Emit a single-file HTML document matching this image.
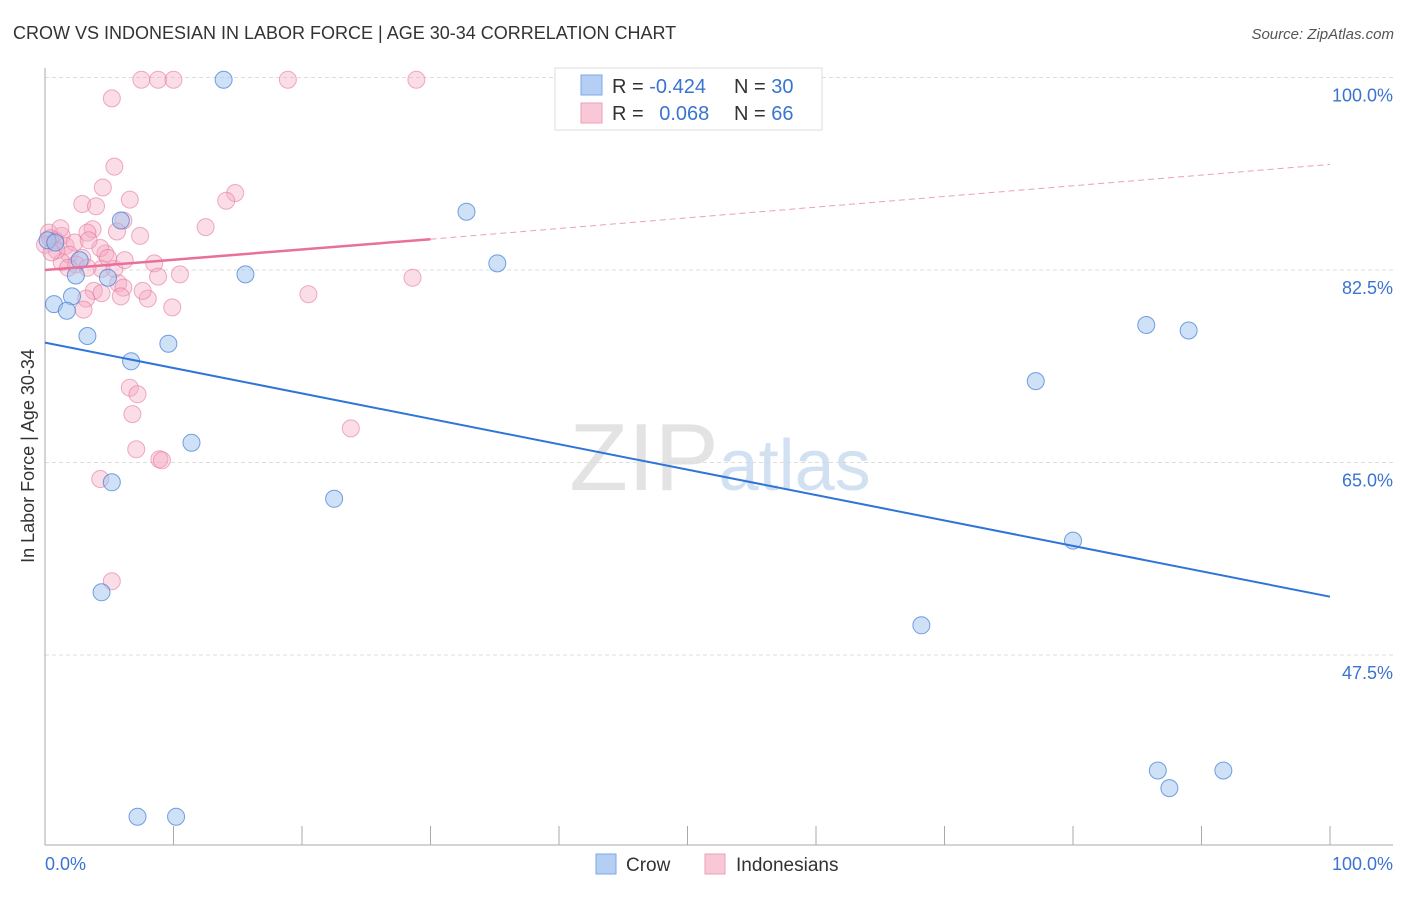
<!DOCTYPE html>
<html><head><meta charset="utf-8"><style>
body{margin:0;background:#fff;font-family:"Liberation Sans",sans-serif;}
svg text{font-family:"Liberation Sans",sans-serif;}
</style></head><body>
<svg id="chart" width="1406" height="892" xmlns="http://www.w3.org/2000/svg">
<text x="13" y="39" font-size="18" fill="#333">CROW VS INDONESIAN IN LABOR FORCE | AGE 30-34 CORRELATION CHART</text>
<text x="1394" y="39" font-size="15" fill="#555" text-anchor="end" font-style="italic">Source: ZipAtlas.com</text>
<g id="grid"></g>
<text x="720" y="490" font-size="96" text-anchor="middle" fill="#ddd" font-family="Liberation Serif" opacity="0.8">ZIP<tspan fill="#c8daf0" font-family="Liberation Sans" font-size="72">atlas</tspan></text>
<text transform="translate(34,456) rotate(-90)" font-size="18" fill="#333" text-anchor="middle">In Labor Force | Age 30-34</text>
<g id="axes"></g>
<g id="marks"></g>
<g>
<rect x="555" y="68" width="267" height="62" fill="#fff" stroke="#ddd"/>
<rect x="581" y="75" width="21" height="20" fill="#b5cff4" stroke="#7aa8e6"/>
<rect x="581" y="103" width="21" height="20" fill="#f8c8d6" stroke="#eba0b8"/>
<text x="612" y="93" font-size="20" fill="#333">R = <tspan fill="#3a74d0">-0.424</tspan></text>
<text x="734" y="93" font-size="20" fill="#333">N = <tspan fill="#3a74d0">30</tspan></text>
<text x="612" y="120" font-size="20" fill="#333">R = <tspan fill="#3a74d0" dx="10">0.068</tspan></text>
<text x="734" y="120" font-size="20" fill="#333">N = <tspan fill="#3a74d0">66</tspan></text>
</g>
<g>
<rect x="596" y="854" width="20" height="20" fill="#b5cff4" stroke="#7aa8e6"/>
<text x="626" y="871" font-size="19" fill="#333">Crow</text>
<rect x="705" y="854" width="20" height="20" fill="#f8c8d6" stroke="#eba0b8"/>
<text x="736" y="871" font-size="19" fill="#333">Indonesians</text>
</g>
</svg>
<script>
const yTicks=[100,82.5,65,47.5];
const yTickLabels=["100.0%","82.5%","65.0%","47.5%"];
const crowX=[13.9,32.8,35.2,5.9,15.6,2.7,4.9,2.4,2.1,0.7,1.7,3.3,9.6,6.7,11.4,5.2,22.5,4.4,7.2,10.2,85.7,89.0,77.1,80.0,68.2,86.6,91.7,87.5,0.2,0.8];
const crowY=[99.8,87.8,83.1,87.0,82.1,83.4,81.8,82.0,80.1,79.4,78.8,76.5,75.8,74.2,66.8,63.2,61.7,53.2,32.8,32.8,77.5,77.0,72.4,57.9,50.2,37.0,37.0,35.4,85.2,85.0];
const indoX=[7.5,8.8,10.0,18.9,28.9,5.2,5.4,4.5,14.8,14.1,6.6,2.9,3.97,6.1,12.5,3.7,5.6,3.3,7.4,0.3,1.3,0.8,1.6,2.3,0,4.7,1.9,2.9,1.3,2.4,8.5,4.4,5.4,10.5,8.8,28.6,5.7,6.1,3.8,4.4,3.2,5.9,8.0,20.5,9.9,3.0,6.6,7.2,6.8,23.8,7.1,8.9,9.1,4.3,5.2,0.9,0.4,1.8,3.3,1.2,4.3,6.2,7.6,0.5,4.9,3.4];
const indoY=[99.8,99.8,99.8,99.8,99.8,98.1,91.9,90.0,89.5,88.8,88.9,88.5,88.3,87.0,86.4,86.2,86.0,85.9,85.6,85.9,85.6,85.2,84.7,85.0,84.8,84.0,83.9,83.6,83.2,83.0,83.1,82.6,82.6,82.1,81.9,81.8,81.3,80.9,80.6,80.4,79.9,80.1,79.9,80.3,79.1,78.9,71.8,71.2,69.4,68.1,66.2,65.3,65.2,63.5,54.2,84.3,85.4,82.7,82.7,86.3,84.5,83.4,80.6,84.1,83.6,85.2];
const crowTrend=[75.9,52.8];
const indoTrend=[82.5,85.3,92.1];
const NS="http://www.w3.org/2000/svg";
const X=v=>45+v*12.85;
const Y=v=>77.5+(100-v)*11;
function mk(tag,attrs,parent){const e=document.createElementNS(NS,tag);for(const k in attrs)e.setAttribute(k,attrs[k]);parent.appendChild(e);return e;}
const grid=document.getElementById('grid'),axes=document.getElementById('axes'),marks=document.getElementById('marks');
yTicks.forEach((t,i)=>{
 const l=mk('line',{x1:45,x2:1393,y1:Y(t),y2:Y(t),stroke:'#ddd','stroke-dasharray':'4,3'},grid);
 
 
 const tx=mk('text',{x:1393,y:Y(t)+24,'font-size':18,fill:'#3a74d0','text-anchor':'end'},axes);
 tx.textContent=yTickLabels[i];
 
 
});
const ax=mk('line',{x1:45,x2:45,y1:68,y2:845,stroke:'#aaa'},axes);


const bx=mk('line',{x1:45,x2:1393,y1:845,y2:845,stroke:'#aaa'},axes);


for(let i=0;i<=10;i++){const t=mk('line',{x1:X(i*10),x2:X(i*10),y1:826,y2:845,stroke:'#aaa'},axes);
 
 }
const xl=mk('text',{x:45,y:870,'font-size':18,fill:'#3a74d0'},axes);xl.textContent='0.0%';


const xr=mk('text',{x:1393,y:870,'font-size':18,fill:'#3a74d0','text-anchor':'end'},axes);xr.textContent='100.0%';


indoX.forEach((v,i)=>{const c=mk('circle',{cx:X(v),cy:Y(indoY[i]),r:8.5,fill:'rgba(244,170,195,0.4)',stroke:'rgba(230,120,155,0.6)','stroke-width':1},marks);
 
 });
crowX.forEach((v,i)=>{const c=mk('circle',{cx:X(v),cy:Y(crowY[i]),r:8.5,fill:'rgba(160,195,240,0.5)',stroke:'rgba(70,130,215,0.75)','stroke-width':1},marks);
 
 });
const ct=mk('line',{x1:X(0),y1:Y(crowTrend[0]),x2:X(100),y2:Y(crowTrend[1]),stroke:'#2f74d8','stroke-width':2},marks);


const it=mk('line',{x1:X(0),y1:Y(indoTrend[0]),x2:X(30),y2:Y(indoTrend[1]),stroke:'#e8709a','stroke-width':2.5},marks);


const id=mk('line',{x1:X(30),y1:Y(indoTrend[1]),x2:X(100),y2:Y(indoTrend[2]),stroke:'#eaa0b8','stroke-width':1,'stroke-dasharray':'6,4'},marks);


</script>
</body></html>
